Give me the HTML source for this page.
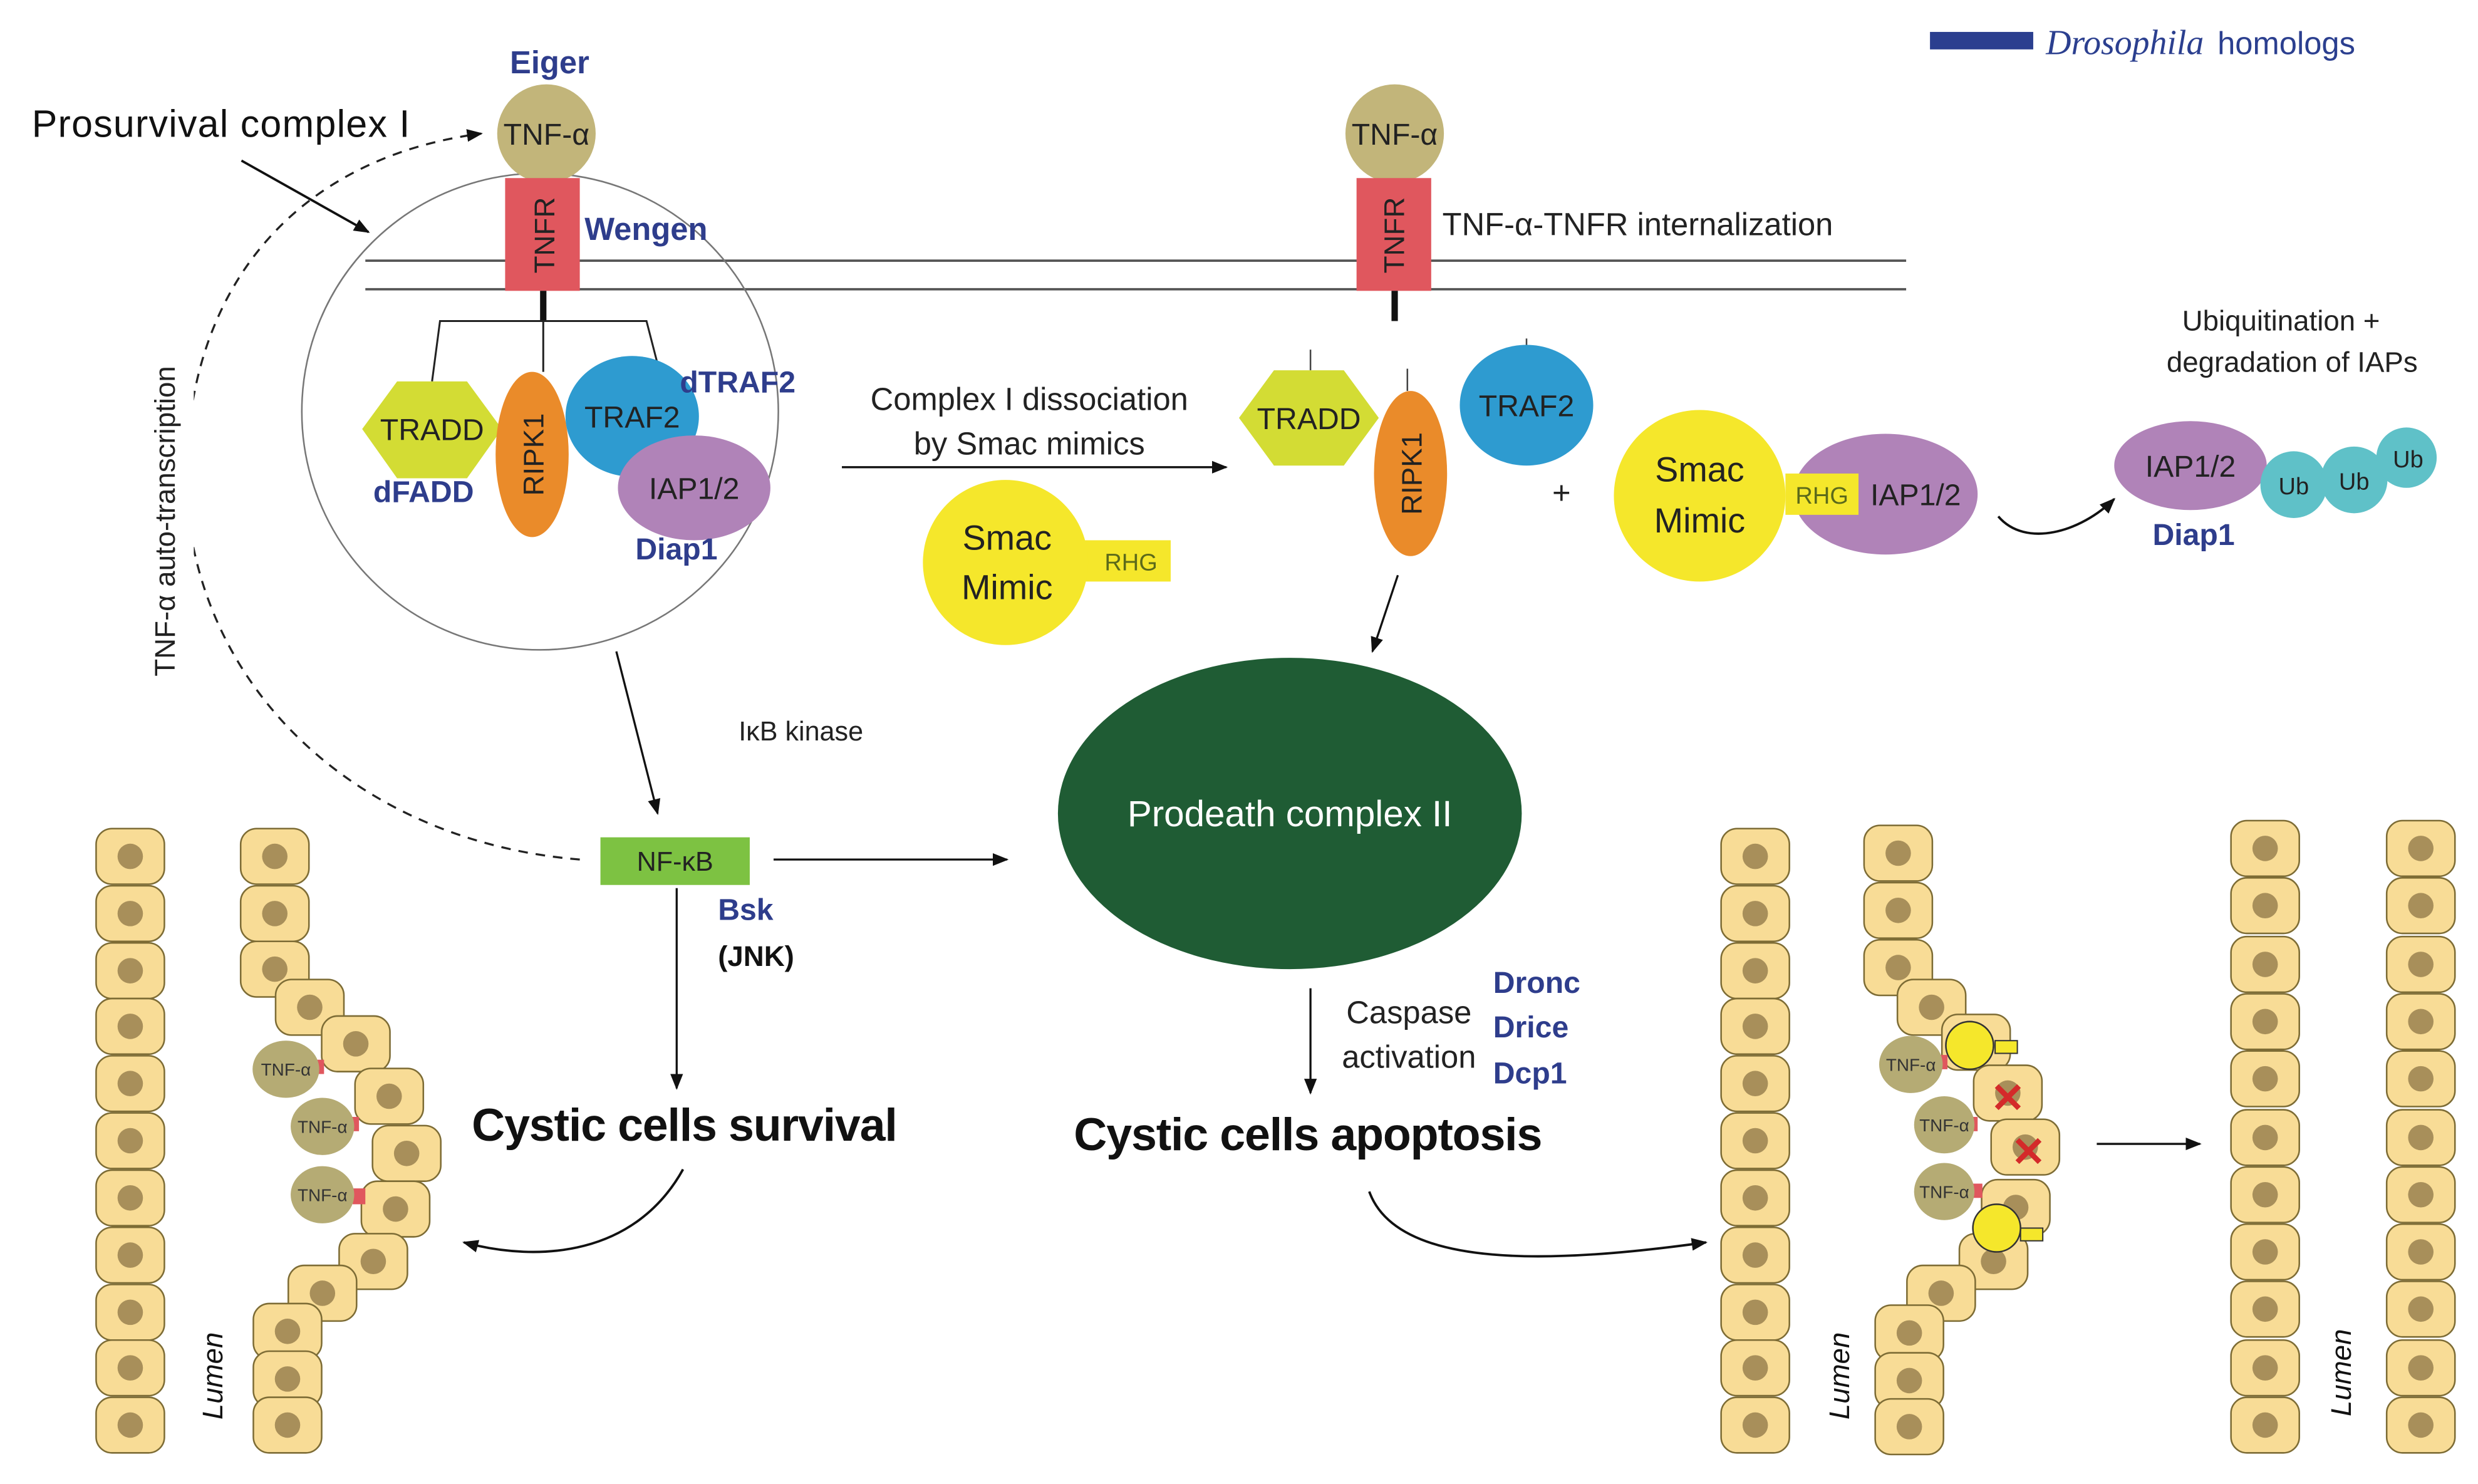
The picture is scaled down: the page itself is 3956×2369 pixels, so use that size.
<!DOCTYPE html>
<html><head><meta charset="utf-8"><style>html,body{margin:0;padding:0;background:#fff}svg{display:block}</style></head>
<body>
<svg width="3956" height="2369" viewBox="0 0 1560 934" xmlns="http://www.w3.org/2000/svg" font-family="Liberation Sans, sans-serif">
<defs>
<marker id="ah" markerWidth="10" markerHeight="10" refX="9" refY="5" orient="auto" markerUnits="userSpaceOnUse"><path d="M0,1 L10,5 L0,9 z" fill="#111"/></marker>
<g id="cell"><rect x="-21.5" y="-17.5" width="43" height="35" rx="10" fill="#f8dc96" stroke="#7d6c35" stroke-width="1"/><circle r="8" fill="#a88f5a"/></g>
</defs>
<rect width="1560" height="934" fill="#fff"/>

<!-- legend -->
<rect x="1215" y="20" width="65" height="11" fill="#2b3f8f"/>
<text x="1288" y="34" font-family="Liberation Serif, serif" font-style="italic" font-size="22" fill="#2b3f8f">Drosophila</text>
<text x="1396" y="34" font-size="20" fill="#2b3f8f">homologs</text>

<!-- membrane -->
<line x1="230" y1="164" x2="1200" y2="164" stroke="#555" stroke-width="1.5"/>
<line x1="230" y1="182" x2="1200" y2="182" stroke="#555" stroke-width="1.5"/>

<!-- complex I circle -->
<circle cx="340" cy="259" r="150" fill="none" stroke="#777" stroke-width="1"/>

<!-- left receptor -->
<text x="346" y="46" font-size="20" font-weight="bold" fill="#2e3d8c" text-anchor="middle">Eiger</text>
<circle cx="344" cy="84" r="31" fill="#c2b57a"/>
<text x="344" y="91" font-size="19" text-anchor="middle" fill="#222">TNF-α</text>
<rect x="318" y="112" width="47" height="71" fill="#e0575e"/>
<text transform="translate(349,148) rotate(-90)" font-size="18" text-anchor="middle" fill="#222">TNFR</text>
<text x="368" y="151" font-size="20" font-weight="bold" fill="#2e3d8c">Wengen</text>
<line x1="342" y1="183" x2="342" y2="202" stroke="#111" stroke-width="4"/>
<polyline points="272,240 277,202 407,202 415,233" fill="none" stroke="#222" stroke-width="1.2"/>
<line x1="342" y1="202" x2="342" y2="234" stroke="#222" stroke-width="1.2"/>

<polygon points="228,270 250,240 294,240 316,270 294,301 250,301" fill="#d3dc34"/>
<text x="272" y="277" font-size="19" text-anchor="middle" fill="#222">TRADD</text>
<text x="235" y="316" font-size="19" font-weight="bold" fill="#2e3d8c">dFADD</text>
<ellipse cx="335" cy="286" rx="23" ry="52" fill="#ea8b2a"/>
<text transform="translate(342,286) rotate(-90)" font-size="18" text-anchor="middle" fill="#222">RIPK1</text>
<ellipse cx="398" cy="262" rx="42" ry="38" fill="#2e9bd0"/>
<text x="398" y="269" font-size="19" text-anchor="middle" fill="#222">TRAF2</text>
<text x="428" y="247" font-size="19" font-weight="bold" fill="#2e3d8c">dTRAF2</text>
<ellipse cx="437" cy="307" rx="48" ry="33" fill="#b083b8"/>
<text x="437" y="314" font-size="19" text-anchor="middle" fill="#222">IAP1/2</text>
<text x="400" y="352" font-size="19" font-weight="bold" fill="#2e3d8c">Diap1</text>

<text x="20" y="86" font-size="24" fill="#111" textLength="238">Prosurvival complex I</text>
<line x1="152" y1="101" x2="232" y2="146" stroke="#111" stroke-width="1.5" marker-end="url(#ah)"/>

<!-- dashed auto transcription -->
<path d="M365,541 C230,530 130,440 118,320 C110,190 180,100 303,84" fill="none" stroke="#222" stroke-width="1.3" stroke-dasharray="6,5" marker-end="url(#ah)"/>
<rect x="96" y="205" width="26" height="235" fill="#fff"/>
<text transform="translate(110,328) rotate(-90)" font-size="18" text-anchor="middle" fill="#222">TNF-α auto-transcription</text>

<line x1="388" y1="410" x2="414" y2="512" stroke="#111" stroke-width="1.3" marker-end="url(#ah)"/>
<text x="465" y="466" font-size="17" fill="#222">IκB kinase</text>
<rect x="378" y="527" width="94" height="30" fill="#7dc242"/>
<text x="425" y="548" font-size="17" text-anchor="middle" fill="#222">NF-κB</text>
<text x="452" y="579" font-size="19" font-weight="bold" fill="#2e3d8c">Bsk</text>
<text x="452" y="608" font-size="18" font-weight="bold" fill="#111">(JNK)</text>
<line x1="487" y1="541" x2="634" y2="541" stroke="#111" stroke-width="1.3" marker-end="url(#ah)"/>
<line x1="426" y1="559" x2="426" y2="685" stroke="#111" stroke-width="1.3" marker-end="url(#ah)"/>
<text x="297" y="718" font-size="29" font-weight="bold" fill="#111" textLength="268">Cystic cells survival</text>
<path d="M430,736 C400,790 340,795 292,782" fill="none" stroke="#111" stroke-width="1.5" marker-end="url(#ah)"/>

<!-- middle -->
<text x="648" y="258" font-size="20" text-anchor="middle" fill="#222">Complex I dissociation</text>
<text x="648" y="286" font-size="20" text-anchor="middle" fill="#222">by Smac mimics</text>
<line x1="530" y1="294" x2="772" y2="294" stroke="#111" stroke-width="1.3" marker-end="url(#ah)"/>
<rect x="680" y="340" width="57" height="26" fill="#f5e72b"/>
<circle cx="633" cy="354" r="52" fill="#f5e72b"/>
<text x="712" y="359" font-size="15" text-anchor="middle" fill="#5c6a1a">RHG</text>
<text x="634" y="346" font-size="22" text-anchor="middle" fill="#222">Smac</text>
<text x="634" y="377" font-size="22" text-anchor="middle" fill="#222">Mimic</text>

<!-- right receptor -->
<circle cx="878" cy="84" r="31" fill="#c2b57a"/>
<text x="878" y="91" font-size="19" text-anchor="middle" fill="#222">TNF-α</text>
<rect x="854" y="112" width="47" height="71" fill="#e0575e"/>
<text transform="translate(884,148) rotate(-90)" font-size="18" text-anchor="middle" fill="#222">TNFR</text>
<line x1="878" y1="183" x2="878" y2="202" stroke="#111" stroke-width="4"/>
<text x="908" y="148" font-size="20" fill="#222">TNF-α-TNFR internalization</text>

<line x1="825" y1="220" x2="825" y2="233" stroke="#444" stroke-width="1"/>
<polygon points="780,263 802,233 846,233 868,263 846,293 802,293" fill="#d3dc34"/>
<text x="824" y="270" font-size="19" text-anchor="middle" fill="#222">TRADD</text>
<line x1="886" y1="232" x2="886" y2="246" stroke="#444" stroke-width="1"/>
<ellipse cx="888" cy="298" rx="23" ry="52" fill="#ea8b2a"/>
<text transform="translate(895,298) rotate(-90)" font-size="18" text-anchor="middle" fill="#222">RIPK1</text>
<line x1="961" y1="213" x2="961" y2="226" stroke="#444" stroke-width="1"/>
<ellipse cx="961" cy="255" rx="42" ry="38" fill="#2e9bd0"/>
<text x="961" y="262" font-size="19" text-anchor="middle" fill="#222">TRAF2</text>
<text x="983" y="317" font-size="20" text-anchor="middle" fill="#222">+</text>

<ellipse cx="1187" cy="311" rx="58" ry="38" fill="#b083b8"/>
<circle cx="1070" cy="312" r="54" fill="#f5e72b"/>
<rect x="1124" y="298" width="46" height="26" fill="#f5e72b"/>
<text x="1147" y="317" font-size="15" text-anchor="middle" fill="#5c6a1a">RHG</text>
<text x="1206" y="318" font-size="19" text-anchor="middle" fill="#222">IAP1/2</text>
<text x="1070" y="303" font-size="22" text-anchor="middle" fill="#222">Smac</text>
<text x="1070" y="335" font-size="22" text-anchor="middle" fill="#222">Mimic</text>

<path d="M1258,325 C1275,345 1310,335 1331,314" fill="none" stroke="#111" stroke-width="1.5" marker-end="url(#ah)"/>
<text x="1436" y="208" font-size="18" text-anchor="middle" fill="#222">Ubiquitination +</text>
<text x="1443" y="234" font-size="18" text-anchor="middle" fill="#222">degradation of IAPs</text>
<ellipse cx="1379" cy="293" rx="48" ry="28" fill="#b083b8"/>
<text x="1379" y="300" font-size="19" text-anchor="middle" fill="#222">IAP1/2</text>
<text x="1381" y="343" font-size="19" font-weight="bold" text-anchor="middle" fill="#2e3d8c">Diap1</text>
<circle cx="1444" cy="305" r="21" fill="#5fc1c8"/>
<circle cx="1482" cy="302" r="21" fill="#5fc1c8"/>
<circle cx="1515" cy="288" r="19" fill="#5fc1c8"/>
<text x="1444" y="311" font-size="15" text-anchor="middle" fill="#222">Ub</text>
<text x="1482" y="308" font-size="15" text-anchor="middle" fill="#222">Ub</text>
<text x="1516" y="294" font-size="15" text-anchor="middle" fill="#222">Ub</text>

<line x1="880" y1="362" x2="864" y2="410" stroke="#111" stroke-width="1.3" marker-end="url(#ah)"/>
<ellipse cx="812" cy="512" rx="146" ry="98" fill="#1f5c34"/>
<text x="812" y="520" font-size="23" text-anchor="middle" fill="#fff">Prodeath complex II</text>
<line x1="825" y1="622" x2="825" y2="688" stroke="#111" stroke-width="1.3" marker-end="url(#ah)"/>
<text x="887" y="644" font-size="20" text-anchor="middle" fill="#222">Caspase</text>
<text x="887" y="672" font-size="20" text-anchor="middle" fill="#222">activation</text>
<text x="940" y="625" font-size="19" font-weight="bold" fill="#2e3d8c">Dronc</text>
<text x="940" y="653" font-size="19" font-weight="bold" fill="#2e3d8c">Drice</text>
<text x="940" y="682" font-size="19" font-weight="bold" fill="#2e3d8c">Dcp1</text>
<text x="676" y="724" font-size="29" font-weight="bold" fill="#111" textLength="295">Cystic cells apoptosis</text>
<path d="M862,750 C880,800 980,795 1074,782" fill="none" stroke="#111" stroke-width="1.5" marker-end="url(#ah)"/>

<!-- survival epithelium -->
<g>
<use href="#cell" x="82" y="539"/><use href="#cell" x="82" y="575"/><use href="#cell" x="82" y="611"/><use href="#cell" x="82" y="646"/><use href="#cell" x="82" y="682"/><use href="#cell" x="82" y="718"/><use href="#cell" x="82" y="754"/><use href="#cell" x="82" y="790"/><use href="#cell" x="82" y="826"/><use href="#cell" x="82" y="861"/><use href="#cell" x="82" y="897"/>
<use href="#cell" x="173" y="539"/><use href="#cell" x="173" y="575"/><use href="#cell" x="173" y="610"/><use href="#cell" x="195" y="634"/><use href="#cell" x="224" y="657"/><use href="#cell" x="245" y="690"/><use href="#cell" x="256" y="726"/><use href="#cell" x="249" y="761"/><use href="#cell" x="235" y="794"/><use href="#cell" x="203" y="814"/><use href="#cell" x="181" y="838"/><use href="#cell" x="181" y="868"/><use href="#cell" x="181" y="897"/>
<rect x="196" y="667" width="8" height="9" fill="#e0575e"/>
<ellipse cx="180" cy="673" rx="21" ry="18" fill="#b5ab74"/>
<text x="180" y="677" font-size="11" text-anchor="middle" fill="#333">TNF-α</text>
<rect x="220" y="703" width="6" height="9" fill="#e0575e"/>
<ellipse cx="203" cy="709" rx="20" ry="18" fill="#b5ab74"/>
<text x="203" y="713" font-size="11" text-anchor="middle" fill="#333">TNF-α</text>
<rect x="222" y="748" width="8" height="10" fill="#e0575e"/>
<ellipse cx="203" cy="752" rx="20" ry="18" fill="#b5ab74"/>
<text x="203" y="756" font-size="11" text-anchor="middle" fill="#333">TNF-α</text>
<text transform="translate(140,866) rotate(-90)" font-size="18" font-style="italic" text-anchor="middle" fill="#111">Lumen</text>
</g>

<!-- apoptosis epithelium -->
<g>
<use href="#cell" x="1105" y="539"/><use href="#cell" x="1105" y="575"/><use href="#cell" x="1105" y="611"/><use href="#cell" x="1105" y="646"/><use href="#cell" x="1105" y="682"/><use href="#cell" x="1105" y="718"/><use href="#cell" x="1105" y="754"/><use href="#cell" x="1105" y="790"/><use href="#cell" x="1105" y="826"/><use href="#cell" x="1105" y="861"/><use href="#cell" x="1105" y="897"/>
<use href="#cell" x="1195" y="537"/><use href="#cell" x="1195" y="573"/><use href="#cell" x="1195" y="609"/><use href="#cell" x="1216" y="634"/><use href="#cell" x="1244" y="656"/><use href="#cell" x="1264" y="688"/><use href="#cell" x="1275" y="722"/><use href="#cell" x="1269" y="760"/><use href="#cell" x="1255" y="794"/><use href="#cell" x="1222" y="814"/><use href="#cell" x="1202" y="839"/><use href="#cell" x="1202" y="869"/><use href="#cell" x="1202" y="898"/>
<rect x="1256" y="655" width="14" height="8" fill="#f5e72b" stroke="#333" stroke-width="0.8"/>
<circle cx="1240" cy="658" r="15" fill="#f5e72b" stroke="#333" stroke-width="1"/>
<rect x="1272" y="773" width="14" height="8" fill="#f5e72b" stroke="#333" stroke-width="0.8"/>
<circle cx="1257" cy="773" r="15" fill="#f5e72b" stroke="#333" stroke-width="1"/>
<text x="1264" y="700" font-size="26" font-weight="bold" text-anchor="middle" fill="#d42a2a">✕</text>
<text x="1277" y="734" font-size="26" font-weight="bold" text-anchor="middle" fill="#d42a2a">✕</text>
<rect x="1218" y="664" width="8" height="9" fill="#e0575e"/>
<ellipse cx="1203" cy="670" rx="20" ry="18" fill="#b5ab74"/>
<text x="1203" y="674" font-size="11" text-anchor="middle" fill="#333">TNF-α</text>
<rect x="1238" y="703" width="7" height="9" fill="#e0575e"/>
<ellipse cx="1224" cy="708" rx="19" ry="18" fill="#b5ab74"/>
<text x="1224" y="712" font-size="11" text-anchor="middle" fill="#333">TNF-α</text>
<rect x="1240" y="745" width="8" height="9" fill="#e0575e"/>
<ellipse cx="1224" cy="750" rx="19" ry="18" fill="#b5ab74"/>
<text x="1224" y="754" font-size="11" text-anchor="middle" fill="#333">TNF-α</text>
<text transform="translate(1164,866) rotate(-90)" font-size="18" font-style="italic" text-anchor="middle" fill="#111">Lumen</text>
</g>
<line x1="1320" y1="720" x2="1385" y2="720" stroke="#111" stroke-width="1.3" marker-end="url(#ah)"/>

<!-- restored epithelium -->
<g>
<use href="#cell" x="1426" y="534"/><use href="#cell" x="1426" y="570"/><use href="#cell" x="1426" y="607"/><use href="#cell" x="1426" y="643"/><use href="#cell" x="1426" y="679"/><use href="#cell" x="1426" y="716"/><use href="#cell" x="1426" y="752"/><use href="#cell" x="1426" y="788"/><use href="#cell" x="1426" y="824"/><use href="#cell" x="1426" y="861"/><use href="#cell" x="1426" y="897"/>
<use href="#cell" x="1524" y="534"/><use href="#cell" x="1524" y="570"/><use href="#cell" x="1524" y="607"/><use href="#cell" x="1524" y="643"/><use href="#cell" x="1524" y="679"/><use href="#cell" x="1524" y="716"/><use href="#cell" x="1524" y="752"/><use href="#cell" x="1524" y="788"/><use href="#cell" x="1524" y="824"/><use href="#cell" x="1524" y="861"/><use href="#cell" x="1524" y="897"/>
<text transform="translate(1480,864) rotate(-90)" font-size="18" font-style="italic" text-anchor="middle" fill="#111">Lumen</text>
</g>
</svg>
</body></html>
